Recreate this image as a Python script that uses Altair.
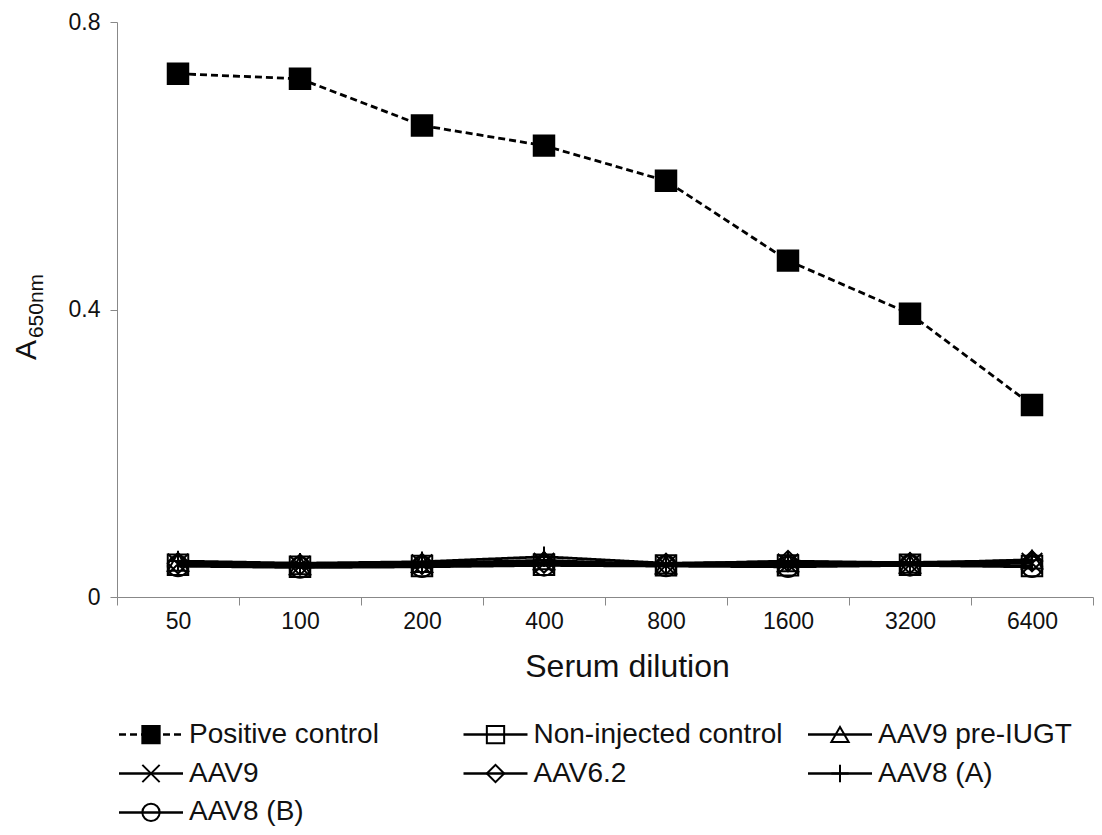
import altair as alt
import pandas as pd

dilutions = ["50", "100", "200", "400", "800", "1600", "3200", "6400"]
series = ["Positive control", "Non-injected control", "AAV9 pre-IUGT", "AAV9",
          "AAV6.2", "AAV8 (A)", "AAV8 (B)"]
positive_control = [0.728, 0.721, 0.656, 0.628, 0.579, 0.468, 0.394, 0.267]
non_injected = [0.045, 0.042, 0.043, 0.045, 0.044, 0.044, 0.045, 0.043]
aav9_pre = [0.049, 0.044, 0.047, 0.051, 0.045, 0.048, 0.046, 0.052]
aav9 = [0.046, 0.043, 0.045, 0.047, 0.044, 0.046, 0.045, 0.047]
aav62 = [0.047, 0.045, 0.046, 0.048, 0.046, 0.050, 0.047, 0.050]
aav8a = [0.050, 0.047, 0.049, 0.056, 0.047, 0.049, 0.048, 0.051]
aav8b = [0.043, 0.041, 0.042, 0.044, 0.043, 0.042, 0.044, 0.042]
y_ticks = [0, 0.4, 0.8]

all_values = [positive_control, non_injected, aav9_pre, aav9, aav62, aav8a, aav8b]
rows = []
for s, vals in zip(series, all_values):
    for d, v in zip(dilutions, vals):
        rows.append({"series": s, "dilution": d, "value": v})
df = pd.DataFrame(rows)

FONT = "Liberation Sans"
X_PATH = "M-1,-1L1,1M-1,1L1,-1"
PLUS_PATH = "M-1,0H1M0,-1V1"
shapes = ["square", "square", "triangle-up", X_PATH, "diamond", PLUS_PATH, "circle"]
fills = ["#000000"] + ["transparent"] * 6
dashes = [[7, 4]] + [[1, 0]] * 6

shape_scale = alt.Scale(domain=series, range=shapes)
fill_scale = alt.Scale(domain=series, range=fills)
dash_scale = alt.Scale(domain=series, range=dashes)

x_enc = alt.X("dilution:O", sort=dilutions, bandPosition=0.5,
              scale=alt.Scale(type="band", paddingInner=0, paddingOuter=0),
              axis=alt.Axis(title="Serum dilution", labelAngle=0, tickBand="extent",
                            labelFontSize=23, titleFontSize=32, labelFont=FONT, titleFont=FONT,
                            titleFontWeight="normal", labelColor="#111", titleColor="#111",
                            domainColor="#888", tickColor="#888", tickSize=8,
                            labelPadding=5, titlePadding=18, titleX=510))
y_enc = alt.Y("value:Q", scale=alt.Scale(domain=[0, 0.8]),
              axis=alt.Axis(title=None, values=y_ticks, grid=False, labelFontSize=23,
                            labelFont=FONT, labelColor="#111", domainColor="#888",
                            tickColor="#888", tickSize=7, labelPadding=10,
                            labelExpr="datum.value == 0 ? '0' : format(datum.value, '.1f')"))

base = alt.Chart(df)
lines = base.mark_line(color="black", strokeWidth=2.8).encode(
    x=x_enc, y=y_enc,
    strokeDash=alt.StrokeDash("series:N", scale=dash_scale, legend=None),
    detail="series:N",
    order=alt.Order("dilution_idx:Q"),
).transform_calculate(
    dilution_idx="indexof(" + str(dilutions) + ", datum.dilution)"
)
points = base.mark_point(stroke="black", strokeWidth=2, size=420, opacity=1).encode(
    x=x_enc, y=y_enc,
    shape=alt.Shape("series:N", scale=shape_scale, legend=None),
    fill=alt.Fill("series:N", scale=fill_scale, legend=None),
)

ytitle_a = alt.Chart(pd.DataFrame({"t": ["A"]})).mark_text(
    angle=270, font=FONT, fontSize=30, align="center", baseline="middle", color="#111"
).encode(text="t:N", x=alt.value(-90), y=alt.value(328))
ytitle_sub = alt.Chart(pd.DataFrame({"t": ["650nm"]})).mark_text(
    angle=270, font=FONT, fontSize=21, align="center", baseline="middle", color="#111"
).encode(text="t:N", x=alt.value(-80), y=alt.value(284))

main = alt.layer(lines, points, ytitle_a, ytitle_sub).properties(width=976, height=575)

leg_df = pd.DataFrame({"series": series})
leg_df["col"] = [i % 3 for i in range(len(series))]
leg_df["row"] = [i // 3 for i in range(len(series))]

lx = alt.X("col:Q", scale=alt.Scale(domain=[0, 2], range=[2, 691]), axis=None)
ly = alt.Y("row:Q", scale=alt.Scale(domain=[-0.4, 2.4], range=[0, 109]), axis=None)
leg_base = alt.Chart(leg_df)
leg_rule = leg_base.mark_rule(color="black", strokeWidth=2.5, x2Offset=64).encode(
    x=lx, x2="col:Q", y=ly,
    strokeDash=alt.StrokeDash("series:N", scale=dash_scale, legend=None),
)
leg_pts = leg_base.mark_point(stroke="black", strokeWidth=2, size=300, opacity=1, xOffset=32).encode(
    x=lx, y=ly,
    shape=alt.Shape("series:N", scale=shape_scale, legend=None),
    fill=alt.Fill("series:N", scale=fill_scale, legend=None),
)
leg_txt = leg_base.mark_text(align="left", baseline="middle", dx=70, font=FONT,
                             fontSize=28, color="#111").encode(x=lx, y=ly, text="series:N")
legend = alt.layer(leg_rule, leg_pts, leg_txt).properties(width=976, height=109)

chart = alt.vconcat(main, legend, spacing=37).configure(
    padding={"left": 4, "top": 3, "right": 0, "bottom": 0},
    view=alt.ViewConfig(stroke=None))

chart.save("out.html", embed_options={"renderer": "svg", "actions": False})
